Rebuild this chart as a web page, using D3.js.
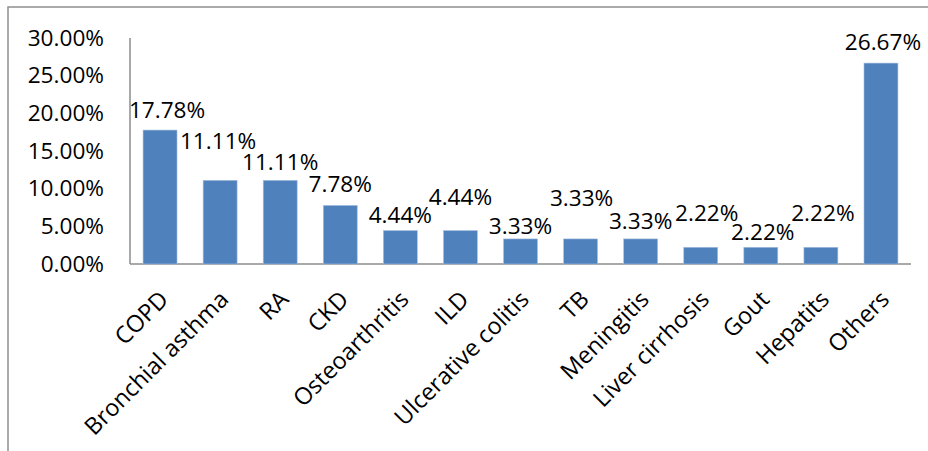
<!DOCTYPE html>
<html>
<head>
<meta charset="utf-8">
<script src="https://cdn.jsdelivr.net/npm/d3@7"></script>
<style>
  body { margin: 0; background: #fff; }
  text { font-family: "Open Sans", sans-serif; fill: #000; }
</style>
</head>
<body>
<svg id="chart"></svg>
<script>
// disease distribution bar chart

// data
var categories = ["COPD", "Bronchial asthma", "RA", "CKD", "Osteoarthritis", "ILD",
    "Ulcerative colitis", "TB", "Meningitis", "Liver cirrhosis", "Gout", "Hepatits", "Others"];
var percents = [17.78, 11.11, 11.11, 7.78, 4.44, 4.44, 3.33, 3.33, 3.33, 2.22, 2.22, 2.22, 26.67];
var yTicks = [0, 5, 10, 15, 20, 25, 30];

// label nudges (px) - the source labels sit at uneven heights
var labelDy = [-20, -39, -18, -21, -15, -33, -13, -41, -18, -34, -15, -34, -21];
var labelDx = [7, -2, 0, 0, 0, 0, 0, 1, 0, 6, 2, 2, 2];

var width = 928;
var height = 451;

var margin = {
    top: 38,
    right: 17,
    bottom: 187,
    left: 130
};

var svg = d3.select("#chart")
    .attr("width", width)
    .attr("height", height);

// outer frame (only top and left edges show)
svg.append("rect")
    .attr("x", 8)
    .attr("y", 7)
    .attr("width", width + 20)
    .attr("height", height + 20)
    .style("fill", "none")
    .style("stroke", "#8e8e8e")
    .style("stroke-width", 1.5);

// SCALES
var x = d3.scaleBand()
    .domain(categories)
    .range([margin.left, width - margin.right])
    .paddingInner(0.435)
    .paddingOuter(0.2175);

var y = d3.scaleLinear()
    .domain([0, 30])
    .range([height - margin.bottom, margin.top]);

var fmt = function(d) { return d.toFixed(2) + "%"; };

// y axis labels
var yAxis = svg.append("g")
    .attr("transform", "translate(" + margin.left + ",0)")
    .call(d3.axisLeft(y)
        .tickValues(yTicks)
        .tickFormat(fmt)
        .tickSize(0)
        .tickPadding(26));
yAxis.select(".domain").remove();
yAxis.selectAll("text")
    .style("font-size", "22.6px")
    .style("font-family", "Open Sans, sans-serif")
    .attr("fill", "#000");

// axis lines
svg.append("line")
    .attr("x1", margin.left).attr("x2", margin.left)
    .attr("y1", y(30)).attr("y2", y(0))
    .style("stroke", "#8c8c8c")
    .style("stroke-width", 1.5);

svg.append("line")
    .attr("x1", margin.left).attr("x2", width - margin.right)
    .attr("y1", y(0)).attr("y2", y(0))
    .style("stroke", "#8c8c8c")
    .style("stroke-width", 1.5);

// BARS
var rows = categories.map(function(c, i) {
    return {cat: c, v: percents[i], dx: labelDx[i], dy: labelDy[i]};
});

svg.append("g").selectAll("rect")
    .data(rows)
    .enter()
    .append("rect")
    .attr("x", d => x(d.cat))
    .attr("y", d => y(d.v))
    .attr("width", x.bandwidth())
    .attr("height", d => y(0) - y(d.v))
    .style("fill", "#4f81bd")
    .style("stroke", "#a9c1e0")
    .style("stroke-width", 0.6);

// value labels
svg.append("g").selectAll("text")
    .data(rows)
    .enter()
    .append("text")
    .attr("x", d => x(d.cat) + x.bandwidth() / 2 + d.dx)
    .attr("y", d => y(d.v) + d.dy)
    .attr("dy", "0.35em")
    .attr("text-anchor", "middle")
    .style("font-size", "22.6px")
    .text(d => fmt(d.v));

// category labels, rotated
svg.append("g").selectAll("text")
    .data(rows)
    .enter()
    .append("text")
    .attr("transform", d => "translate(" + (x(d.cat) + x.bandwidth() / 2 + 4) + "," + 295 + ") rotate(-45)")
    .attr("dy", "0.35em")
    .attr("text-anchor", "end")
    .style("font-size", "23.5px")
    .text(d => d.cat);
</script>
</body>
</html>
